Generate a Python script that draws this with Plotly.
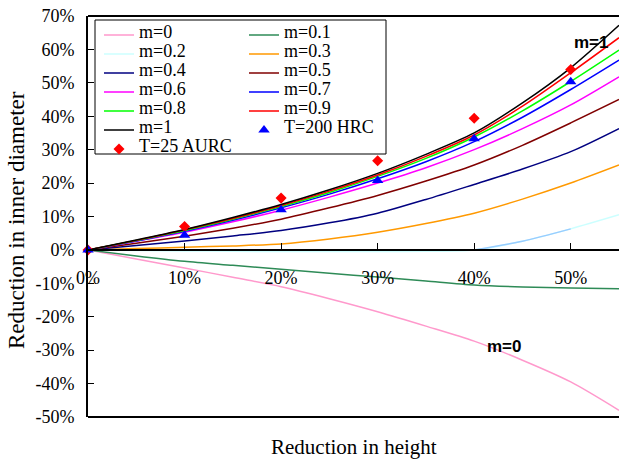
import plotly.graph_objects as go

# ---------------- data (percent) ----------------
x_pct = [0, 5, 10, 15, 20, 25, 30, 35, 40, 45, 50, 55]

m_names = ["m=0", "m=0.1", "m=0.2", "m=0.3", "m=0.4", "m=0.5",
           "m=0.6", "m=0.7", "m=0.8", "m=0.9", "m=1"]
m_colors = ["#ff99cc", "#2e8b57", "#ccffff", "#ff9900", "#000080", "#800000",
            "#ff00ff", "#0000ff", "#00ff00", "#ff0000", "#000000"]

m_0 = [0, -2.7, -5.4, -8.2, -11.0, -14.6, -18.5, -22.8, -27.3, -33.0, -39.5, -48.0]
m_01 = [0, -1.8, -3.4, -4.6, -5.8, -7.0, -8.1, -9.3, -10.5, -11.1, -11.4, -11.6]
m_02 = [0, -0.2, -0.3, -0.4, -0.5, -0.5, -0.5, -0.4, 0.0, 2.6, 6.3, 10.5]
m_03 = [0, 0.4, 0.8, 1.2, 1.8, 3.3, 5.3, 7.9, 11.0, 15.2, 20.0, 25.4]
m_04 = [0, 1.3, 2.7, 4.2, 5.8, 8.1, 11.0, 15.1, 19.6, 24.2, 29.4, 36.3]
m_05 = [0, 2.0, 4.1, 6.5, 9.2, 12.6, 16.3, 20.6, 25.4, 31.3, 38.0, 45.0]
m_06 = [0, 2.6, 5.3, 8.4, 11.9, 15.8, 20.0, 24.6, 30.0, 36.3, 43.4, 51.8]
m_07 = [0, 2.7, 5.6, 8.9, 12.6, 16.7, 21.3, 26.4, 32.4, 39.7, 48.0, 56.8]
m_08 = [0, 2.8, 5.8, 9.2, 13.0, 17.2, 22.0, 27.4, 33.8, 41.6, 50.4, 59.8]
m_09 = [0, 2.85, 6.0, 9.4, 13.3, 17.6, 22.4, 28.0, 34.4, 43.0, 53.0, 63.5]
m_1 = [0, 2.95, 6.1, 9.7, 13.6, 18.0, 22.9, 28.6, 35.0, 44.0, 54.5, 67.2]
m_series = [m_0, m_01, m_02, m_03, m_04, m_05, m_06, m_07, m_08, m_09, m_1]

x_exp = [0, 10, 20, 30, 40, 50]
aurc_25 = [0, 7.0, 15.5, 26.7, 39.4, 54.0]
hrc_200 = [0, 4.4, 12.0, 20.8, 33.3, 50.3]

x_ticks = [0, 10, 20, 30, 40, 50]
x_ticktext = ["0%", "10%", "20%", "30%", "40%", "50%"]
y_ticks = [-50, -40, -30, -20, -10, 0, 10, 20, 30, 40, 50, 60, 70]
y_ticktext = ["-50%", "-40%", "-30%", "-20%", "-10%", "0%", "10%",
              "20%", "30%", "40%", "50%", "60%", "70%"]

SERIF = "Liberation Serif"
LEG_FS = 18


def big(txt):
    return '<span style="font-size:%dpx">%s</span>' % (LEG_FS, txt)


fig = go.Figure()
for i, (name, col, ys) in enumerate(zip(m_names, m_colors, m_series)):
    fig.add_trace(go.Scatter(
        x=x_pct, y=ys, mode="lines", name=big(name),
        line=dict(color=col, width=1.5, shape="spline", smoothing=0.8),
        legend="legend" if i % 2 == 0 else "legend2",
    ))
    if name == "m=0.2":
        # the middle part of this curve is rendered in a light blue tone
        fig.add_trace(go.Scatter(
            x=x_pct[8:11], y=ys[8:11], mode="lines", showlegend=False,
            line=dict(color="#99ccff", width=1.5, shape="spline", smoothing=0.8),
            hoverinfo="skip",
        ))

fig.add_trace(go.Scatter(
    x=x_exp, y=aurc_25, mode="markers", name=big("T=25 AURC"),
    marker=dict(symbol="diamond", size=8.5, color="#ff0000"),
    cliponaxis=False, legend="legend",
))
fig.add_trace(go.Scatter(
    x=x_exp, y=hrc_200, mode="markers", name=big("T=200 HRC"),
    marker=dict(symbol="triangle-up", size=10, color="#0000ff"),
    cliponaxis=False, legend="legend2",
))

W, H = 619, 461
L, R, T, B = 88, 0, 16, 44
pw = W - L - R
ph = H - T - B


def px_x(px):
    return (px - L) / pw


def px_y(py):
    return (H - B - py) / ph


legend_common = dict(
    font=dict(family=SERIF, size=8, color="black"),
    bgcolor="rgba(0,0,0,0)", borderwidth=0,
    xanchor="left", yanchor="top", orientation="v",
    itemwidth=30, tracegroupgap=0,
)

fig.update_layout(
    width=W, height=H,
    margin=dict(l=L, r=R, t=T, b=B, autoexpand=False),
    paper_bgcolor="white", plot_bgcolor="white",
    font=dict(family=SERIF, size=18, color="black"),
    showlegend=True,
    legend=dict(x=px_x(99), y=px_y(20.5), **legend_common),
    legend2=dict(x=px_x(244), y=px_y(20.5), **legend_common),
    xaxis=dict(
        range=[0, 55], anchor="free", position=50 / 120,
        showline=True, linecolor="black", linewidth=1.5,
        ticks="inside", ticklen=6, tickwidth=1, tickcolor="black",
        tickvals=x_ticks, ticktext=x_ticktext,
        ticklabelstandoff=12,
        tickfont=dict(family=SERIF, size=18, color="black"),
        showgrid=False, zeroline=False, automargin=False,
    ),
    yaxis=dict(
        range=[-50, 70],
        showline=True, linecolor="black", linewidth=2,
        ticks="inside", ticklen=6, tickwidth=1, tickcolor="black",
        tickvals=y_ticks, ticktext=y_ticktext,
        ticklabelstandoff=8,
        tickfont=dict(family=SERIF, size=18, color="black"),
        showgrid=False, zeroline=False, automargin=False,
    ),
    shapes=[
        dict(type="line", xref="paper", yref="paper", x0=0, x1=1, y0=1, y1=1,
             line=dict(color="black", width=2)),
        dict(type="line", xref="paper", yref="paper", x0=0, x1=1, y0=0, y1=0,
             line=dict(color="black", width=2)),
        dict(type="rect", xref="paper", yref="paper",
             x0=px_x(95), x1=px_x(386), y0=px_y(154), y1=px_y(20),
             line=dict(color="black", width=1), fillcolor="white", layer="below"),
    ],
    annotations=[
        dict(text="Reduction in height", xref="paper", yref="paper",
             x=0.5, y=px_y(447), xanchor="center", yanchor="middle",
             showarrow=False, font=dict(family=SERIF, size=21, color="black")),
        dict(text="Reduction in inner diameter", xref="paper", yref="paper",
             x=px_x(16), y=px_y(220), xanchor="center", yanchor="middle",
             textangle=-90, showarrow=False,
             font=dict(family=SERIF, size=23, color="black")),
        dict(text="<b>m=1</b>", x=52.1, y=62, xref="x", yref="y",
             showarrow=False, font=dict(family="Liberation Sans", size=17, color="black")),
        dict(text="<b>m=0</b>", x=43.1, y=-29, xref="x", yref="y",
             showarrow=False, font=dict(family="Liberation Sans", size=17, color="black")),
    ],
)

fig.write_html("out.html")
